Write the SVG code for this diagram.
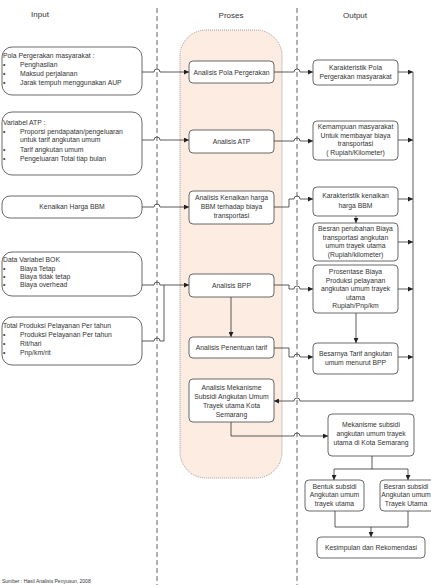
<svg xmlns="http://www.w3.org/2000/svg" width="431" height="585" viewBox="0 0 431 585">
<defs>
<marker id="ah" viewBox="0 0 10 10" refX="10" refY="5" markerWidth="5" markerHeight="5" orient="auto" markerUnits="userSpaceOnUse">
<path d="M0,0 L10,5 L0,10 z" fill="#222"/>
</marker>
<style>
text{font-family:"Liberation Sans",Arial,sans-serif;font-size:6.8px;fill:#333}
.hd{font-size:8px}
.c{text-anchor:middle}
.box{fill:#fff;stroke:#444;stroke-width:0.8}
.ln{fill:none;stroke:#333;stroke-width:0.8}
.arr{marker-end:url(#ah)}
.dash{stroke:#555;stroke-width:0.9;stroke-dasharray:5,3;fill:none}
.cap{font-size:5px}
</style>
</defs>
<rect width="431" height="585" fill="#fff"/>
<g id="bg">
<rect x="180" y="30" width="102" height="448" rx="26" fill="#fcece1" stroke="#777" stroke-width="0.7" stroke-dasharray="1,1"/>
<line class="dash" x1="157" y1="8" x2="157" y2="585"/>
<line class="dash" x1="297" y1="8" x2="297" y2="585"/>
<text class="hd c" x="40" y="17">Input</text>
<text class="hd c" x="231" y="18">Proses</text>
<text class="hd c" x="355" y="18">Output</text>
</g>
<g id="connectors">
<path class="ln arr" d="M142,72 H154 a3,3 0 0 1 6,0 H189"/>
<path class="ln arr" d="M142,140 H154 a3,3 0 0 1 6,0 H189"/>
<path class="ln arr" d="M142,207 H154 a3,3 0 0 1 6,0 H189"/>
<path class="ln arr" d="M142,285 H154 a3,3 0 0 1 6,0 H189"/>
<path class="ln" d="M142,341 H154 a3,3 0 0 1 6,0 H164 V285"/>
<path class="ln arr" d="M231,297 V337"/>
<path class="ln arr" d="M274,72 H294 a3,3 0 0 1 6,0 H313"/>
<path class="ln arr" d="M274,141 H294 a3,3 0 0 1 6,0 H313"/>
<path class="ln arr" d="M274,207 H289 V199 H294 a3,3 0 0 1 6,0 H313"/>
<path class="ln arr" d="M274,285 H289 V289 H294 a3,3 0 0 1 6,0 H313"/>
<path class="ln arr" d="M274,348 H289 V357 H294 a3,3 0 0 1 6,0 H313"/>
<path class="ln arr" d="M356,216 V223"/>
<path class="ln arr" d="M356,313 V343"/>
<path class="ln arr" d="M398,72 H413"/>
<path class="ln arr" d="M398,140 H413"/>
<path class="ln arr" d="M398,199 H413"/>
<path class="ln arr" d="M398,242 H413"/>
<path class="ln arr" d="M398,289 H413"/>
<path class="ln arr" d="M398,357 H413"/>
<path class="ln arr" d="M413,72 V401 H300 a3,3 0 0 0 -6,0 H274"/>
<path class="ln arr" d="M231,422 V436 H294 a3,3 0 0 1 6,0 H328"/>
<path class="ln" d="M372,456 V469 M334,469 H408"/>
<path class="ln arr" d="M334,469 V480"/>
<path class="ln arr" d="M408,469 V480"/>
<path class="ln" d="M335,511 V527 H408 V511"/>
<path class="ln arr" d="M371,527 V537"/>
</g>
<g id="in1">
<rect class="box" x="2" y="47" width="140" height="48" rx="10"/>
<text x="3" y="58">Pola Pergerakan masyarakat :</text>
<text x="3" y="67">•</text><text x="20" y="67">Penghasilan</text>
<text x="3" y="76">•</text><text x="20" y="76">Maksud perjalanan</text>
<text x="3" y="85">•</text><text x="20" y="85">Jarak tempuh menggunakan AUP</text>
</g>
<g id="in2">
<rect class="box" x="2" y="112" width="140" height="63" rx="10"/>
<text x="3" y="125">Variabel ATP :</text>
<text x="3" y="134">•</text><text x="20" y="134">Proporsi pendapatan/pengeluaran</text>
<text x="20" y="142">untuk tarif angkutan umum</text>
<text x="3" y="152">•</text><text x="20" y="152">Tarif angkutan umum</text>
<text x="3" y="161">•</text><text x="20" y="161">Pengeluaran Total tiap bulan</text>
</g>
<g id="in3">
<rect class="box" x="2" y="196" width="140" height="22" rx="8"/>
<text class="c" x="72" y="209">Kenaikan Harga BBM</text>
</g>
<g id="in4">
<rect class="box" x="2" y="252" width="140" height="44" rx="10"/>
<text x="3" y="262">Data Variabel BOK</text>
<text x="3" y="271">•</text><text x="20" y="271">Biaya Tetap</text>
<text x="3" y="279">•</text><text x="20" y="279">Biaya tidak tetap</text>
<text x="3" y="287">•</text><text x="20" y="287">Biaya overhead</text>
</g>
<g id="in5">
<rect class="box" x="2" y="317" width="140" height="48" rx="10"/>
<text x="3" y="328">Total Produksi Pelayanan Per tahun</text>
<text x="3" y="337">•</text><text x="20" y="337">Produksi Pelayanan Per tahun</text>
<text x="3" y="346">•</text><text x="20" y="346">Rit/hari</text>
<text x="3" y="355">•</text><text x="20" y="355">Pnp/km/rit</text>
</g>
<g id="p1">
<rect class="box" x="189" y="61" width="85" height="22" rx="4"/>
<text class="c" x="231.5" y="74.5">Analisis Pola Pergerakan</text>
</g>
<g id="p2">
<rect class="box" x="189" y="130" width="85" height="23" rx="4"/>
<text class="c" x="231.5" y="144">Analisis ATP</text>
</g>
<g id="p3">
<rect class="box" x="189" y="191" width="85" height="33" rx="4"/>
<text class="c" x="231.5" y="200">Analisis Kenaikan harga</text>
<text class="c" x="231.5" y="209">BBM terhadap biaya</text>
<text class="c" x="231.5" y="218">transportasi</text>
</g>
<g id="p4">
<rect class="box" x="189" y="274" width="85" height="23" rx="4"/>
<text class="c" x="231.5" y="288">Analisis BPP</text>
</g>
<g id="p5">
<rect class="box" x="189" y="337" width="85" height="21" rx="4"/>
<text class="c" x="231.5" y="350">Analisis Penentuan tarif</text>
</g>
<g id="p6">
<rect class="box" x="189" y="379" width="85" height="43" rx="4"/>
<text class="c" x="231.5" y="390">Analisis Mekanisme</text>
<text class="c" x="231.5" y="399">Subsidi Angkutan Umum</text>
<text class="c" x="231.5" y="408">Trayek utama Kota</text>
<text class="c" x="231.5" y="417">Semarang</text>
</g>
<g id="o1">
<rect class="box" x="313" y="60" width="85" height="25" rx="4"/>
<text class="c" x="355.5" y="70">Karakteristik Pola</text>
<text class="c" x="355.5" y="79">Pergerakan masyarakat</text>
</g>
<g id="o2">
<rect class="box" x="313" y="121" width="85" height="39" rx="4"/>
<text class="c" x="355.5" y="129">Kemampuan masyarakat</text>
<text class="c" x="355.5" y="137.5">Untuk membayar biaya</text>
<text class="c" x="355.5" y="146">transportasi</text>
<text class="c" x="355.5" y="154.5">( Rupiah/Kilometer)</text>
</g>
<g id="o3">
<rect class="box" x="313" y="187" width="85" height="29" rx="4"/>
<text class="c" x="355.5" y="198">Karakteristik kenaikan</text>
<text class="c" x="355.5" y="208">harga BBM</text>
</g>
<g id="o4">
<rect class="box" x="313" y="223" width="85" height="38" rx="4"/>
<text class="c" x="355.5" y="231">Besran perubahan Biaya</text>
<text class="c" x="355.5" y="239.5">transportasi angkutan</text>
<text class="c" x="355.5" y="248">umum trayek utama</text>
<text class="c" x="355.5" y="256.5">(Rupiah/kilometer)</text>
</g>
<g id="o5">
<rect class="box" x="313" y="265" width="85" height="48" rx="4"/>
<text class="c" x="355.5" y="274">Prosentase Biaya</text>
<text class="c" x="355.5" y="282.5">Produksi pelayanan</text>
<text class="c" x="355.5" y="291">angkutan umum trayek</text>
<text class="c" x="355.5" y="299.5">utama</text>
<text class="c" x="355.5" y="308">Rupiah/Pnp/km</text>
</g>
<g id="o6">
<rect class="box" x="313" y="343" width="85" height="31" rx="4"/>
<text class="c" x="355.5" y="356">Besarnya Tarif angkutan</text>
<text class="c" x="355.5" y="365">umum menurut BPP</text>
</g>
<g id="o7">
<rect class="box" x="328" y="414" width="86" height="42" rx="4"/>
<text class="c" x="371" y="427">Mekanisme subsidi</text>
<text class="c" x="371" y="436">angkutan umum trayek</text>
<text class="c" x="371" y="445">utama di Kota Semarang</text>
</g>
<g id="o8">
<rect class="box" x="305" y="480" width="59" height="31" rx="4"/>
<text class="c" x="334.5" y="488.5">Bentuk subsidi</text>
<text class="c" x="334.5" y="497">Angkutan umum</text>
<text class="c" x="334.5" y="505.5">trayek utama</text>
</g>
<g id="o9">
<rect class="box" x="380" y="480" width="59" height="31" rx="4"/>
<text class="c" x="406" y="488.5">Besran subsidi</text>
<text class="c" x="406" y="497">Angkutan umum</text>
<text class="c" x="406" y="505.5">Trayek Utama</text>
</g>
<g id="o10">
<rect class="box" x="317" y="537" width="108" height="21" rx="4"/>
<text class="c" x="371" y="550">Kesimpulan dan Rekomendasi</text>
</g>
<text class="cap" x="2" y="583">Sumber : Hasil Analisis Penyusun, 2008</text>
</svg>
